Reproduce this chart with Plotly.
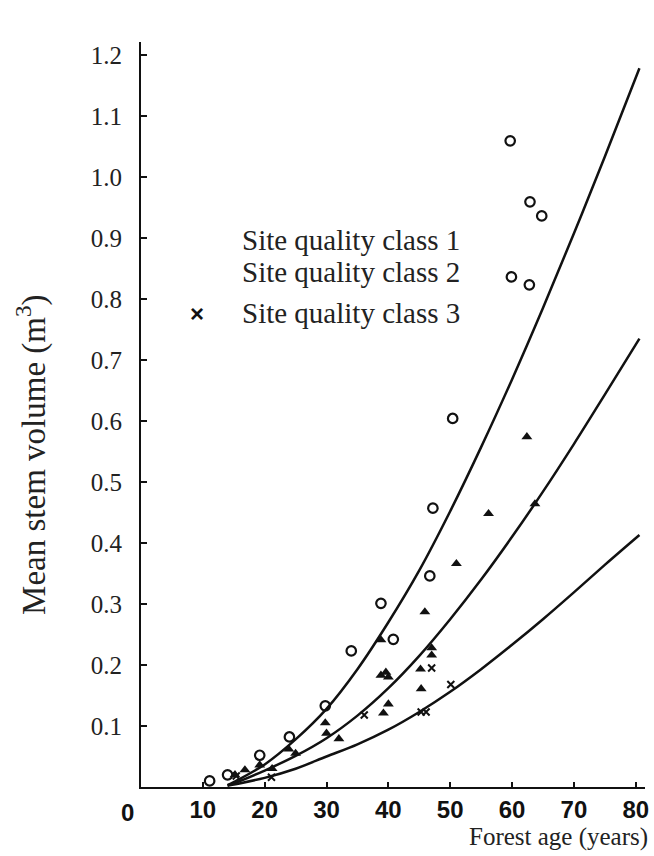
import plotly.graph_objects as go

# ---- data ----
class1_age = [11.1, 14.0, 19.2, 24.0, 29.8, 34.0, 38.8, 40.8, 46.7, 47.2, 50.4, 59.7, 59.9, 62.8, 62.9, 63.9, 64.8]
class1_vol = [0.010, 0.020, 0.052, 0.082, 0.133, 0.223, 0.301, 0.242, 0.346, 0.457, 0.604, 1.059, 0.836, 0.823, 0.959, 1.244, 0.936]

class2_age = [15.2, 16.8, 19.2, 21.2, 23.9, 25.0, 29.8, 30.0, 32.0, 38.8, 38.8, 39.6, 40.0, 39.2, 40.0,
              45.2, 45.3, 45.9, 47.0, 47.0, 51.0, 56.2, 62.4, 63.7]
class2_vol = [0.020, 0.028, 0.036, 0.030, 0.062, 0.055, 0.105, 0.088, 0.079, 0.241, 0.183, 0.188, 0.180, 0.121, 0.136,
              0.193, 0.161, 0.287, 0.228, 0.216, 0.366, 0.448, 0.574, 0.464]

class3_age = [15.4, 21.1, 36.1, 45.3, 46.1, 47.0, 50.1]
class3_vol = [0.018, 0.016, 0.118, 0.123, 0.123, 0.195, 0.168]

curve_age = [14, 15, 20, 25, 30, 35, 40, 45, 50, 55, 60, 65, 70, 75, 80.6]
curve1 = [0.003, 0.008, 0.037, 0.078, 0.128, 0.193, 0.270, 0.355, 0.452, 0.557, 0.668, 0.785, 0.907, 1.033, 1.178]
curve2 = [0.003, 0.006, 0.027, 0.051, 0.080, 0.117, 0.162, 0.215, 0.275, 0.340, 0.410, 0.484, 0.562, 0.643, 0.735]
curve3 = [0.002, 0.004, 0.015, 0.030, 0.050, 0.070, 0.094, 0.123, 0.156, 0.193, 0.233, 0.275, 0.319, 0.364, 0.413]

x_ticks = [10, 20, 30, 40, 50, 60, 70, 80]
y_ticks = [0.1, 0.2, 0.3, 0.4, 0.5, 0.6, 0.7, 0.8, 0.9, 1.0, 1.1, 1.2]
legend_labels = ["Site quality class 1", "Site quality class 2", "Site quality class 3"]

SERIF = "Liberation Serif, Times New Roman, serif"
SANS_BOLD = "Liberation Sans Narrow, Arial Narrow, Liberation Sans, Arial, sans-serif"
INK = "#111111"

fig = go.Figure()
for cv in (curve1, curve2, curve3):
    fig.add_trace(go.Scatter(x=curve_age, y=cv, mode="lines", line=dict(color=INK, width=2.5, shape="spline"),
                             showlegend=False, hoverinfo="skip"))

fig.add_trace(go.Scatter(x=class1_age, y=class1_vol, mode="markers", name=legend_labels[0],
                         marker=dict(symbol="circle-open", size=9.5, color=INK, line=dict(width=2.2, color=INK)),
                         showlegend=False))
fig.add_trace(go.Scatter(x=class2_age, y=class2_vol, mode="markers", name=legend_labels[1],
                         marker=dict(symbol="triangle-up", size=9.5, color=INK),
                         showlegend=False))
fig.add_trace(go.Scatter(x=class3_age, y=class3_vol, mode="markers", name=legend_labels[2],
                         marker=dict(symbol="x-thin", size=7, color=INK, line=dict(width=2, color=INK)),
                         showlegend=False))

# manual legend (as in the reference)
leg_y = [0.734, 0.691, 0.636]
for lab, yy in zip(legend_labels, leg_y):
    fig.add_annotation(xref="paper", yref="paper", x=0.197, y=yy, text=lab, showarrow=False,
                       xanchor="left", yanchor="middle", font=dict(family=SERIF, size=29, color="#222"))
fig.add_annotation(xref="paper", yref="paper", x=0.112, y=0.636, text="<b>×</b>", showarrow=False,
                   xanchor="center", yanchor="middle", font=dict(family="Liberation Sans, Arial", size=24, color=INK))

# "0" origin label
fig.add_annotation(xref="paper", yref="paper", x=-0.026, y=-0.034, text="<b>0</b>", showarrow=False,
                   xanchor="center", yanchor="middle", font=dict(family=SANS_BOLD, size=24, color=INK))
# axis titles
fig.add_annotation(xref="paper", yref="paper", x=1.01, y=-0.067, text="Forest age (years)", showarrow=False,
                   xanchor="right", yanchor="middle", font=dict(family=SERIF, size=25, color="#222"))
fig.add_annotation(xref="paper", yref="paper", x=-0.2185, y=0.4456, text="Mean stem volume (m<sup>3</sup>)",
                   showarrow=False, textangle=-90, xanchor="center", yanchor="middle",
                   font=dict(family=SERIF, size=33, color="#222"))

fig.update_layout(
    width=654, height=856,
    margin=dict(l=141, r=5, t=42, b=69),
    paper_bgcolor="white", plot_bgcolor="white",
    showlegend=False,
    xaxis=dict(range=[0, 81.5], tickvals=x_ticks, ticks="inside", ticklen=5, tickwidth=2, tickcolor=INK,
               showline=True, linecolor=INK, linewidth=2, showgrid=False, zeroline=False,
               ticklabelstandoff=0, ticklabeloverflow="allow",
               tickfont=dict(family=SANS_BOLD, size=24, color=INK, weight="bold")),
    yaxis=dict(range=[0, 1.221], tickvals=y_ticks, tickformat=".1f", ticks="inside", ticklen=6, tickwidth=2,
               tickcolor=INK, showline=True, linecolor=INK, linewidth=2, showgrid=False, zeroline=False,
               ticklabelstandoff=12,
               tickfont=dict(family=SERIF, size=25, color="#222")),
)

fig.write_html("out.html")
